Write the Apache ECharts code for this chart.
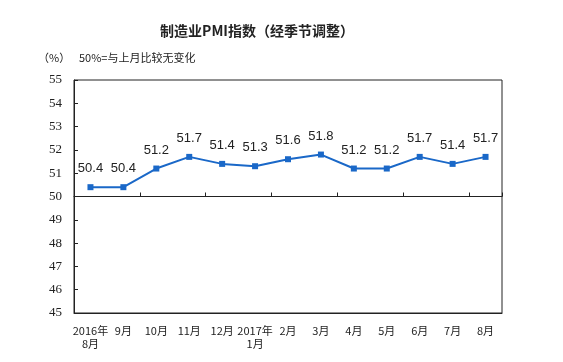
<!DOCTYPE html>
<html><head><meta charset="utf-8">
<script src="https://cdn.jsdelivr.net/npm/echarts@6/dist/echarts.min.js"></script>
<style>html,body{margin:0;padding:0;background:#fff}#c{width:563px;height:362px}</style>
</head><body><div id="c"></div>
<script>
const categories = ['2016年\n8月','9月','10月','11月','12月','2017年\n1月','2月','3月','4月','5月','6月','7月','8月'];
const pmiValues = [50.4, 50.4, 51.2, 51.7, 51.4, 51.3, 51.6, 51.8, 51.2, 51.2, 51.7, 51.4, 51.7];
const yTicks = [45, 46, 47, 48, 49, 50, 51, 52, 53, 54, 55];
const titleText = '制造业PMI指数（经季节调整）';
const unitText = '（%）';
const noteText = '50%=与上月比较无变化';

const chart = echarts.init(document.getElementById('c'), null, {renderer: 'canvas'});
const gridTop = 80, gridBottom = 49;
const plotH = 362 - gridTop - gridBottom;
const upperH = plotH * (55 - 50) / (55 - 45);
chart.setOption({
  animation: false,
  backgroundColor: '#fff',
  title: {
    text: titleText, left: 252, top: 19, textAlign: 'center',
    textStyle: {fontFamily: 'Noto Sans CJK SC', fontSize: 14, fontWeight: 'bold', color: '#222'}
  },
  graphic: [
    {type: 'text', left: 38, top: 52, style: {text: unitText, font: '11px "Noto Sans CJK SC"', fill: '#222'}},
    {type: 'text', left: 79, top: 52, style: {text: noteText, font: '11px "Noto Sans CJK SC"', fill: '#222'}}
  ],
  grid: [
    {left: 74, right: 61, top: gridTop, bottom: gridBottom, show: true, borderColor: '#222', borderWidth: 1, backgroundColor: 'transparent'},
    {left: 74, right: 61, top: gridTop, height: upperH, show: false}
  ],
  xAxis: [
    {
      type: 'category', data: categories, boundaryGap: true, position: 'bottom', gridIndex: 0,
      axisLine: {show: true, lineStyle: {color: '#222'}},
      axisTick: {show: false},
      axisLabel: {interval: 0, margin: 11, fontFamily: 'Noto Sans CJK SC', fontSize: 11, color: '#222', lineHeight: 13}
    },
    {
      type: 'category', data: categories, boundaryGap: true, position: 'bottom', gridIndex: 1,
      axisLine: {show: true, onZero: false, lineStyle: {color: '#222', width: 1}},
      axisTick: {show: true, inside: true, length: 4, lineStyle: {color: '#222'}},
      axisLabel: {show: false}
    }
  ],
  yAxis: [
    {
      type: 'value', gridIndex: 0, min: yTicks[0], max: yTicks[yTicks.length - 1], interval: 1,
      axisLine: {show: true, lineStyle: {color: '#222'}},
      axisTick: {show: true, inside: true, length: 4, lineStyle: {color: '#222'}},
      splitLine: {show: false},
      axisLabel: {margin: 12, fontFamily: 'Liberation Serif', fontSize: 13, color: '#222'}
    },
    {type: 'value', gridIndex: 1, min: 50, max: 55, show: false}
  ],
  series: [{
    type: 'line', data: pmiValues, xAxisIndex: 0, yAxisIndex: 0,
    symbol: 'rect', symbolSize: 6,
    lineStyle: {color: '#1a68c8', width: 2},
    itemStyle: {color: '#1a68c8'},
    label: {show: true, position: 'top', distance: 9, fontFamily: 'Liberation Sans', fontSize: 13, color: '#222', formatter: p => p.value.toFixed(1)}
  }]
});
</script></body></html>
